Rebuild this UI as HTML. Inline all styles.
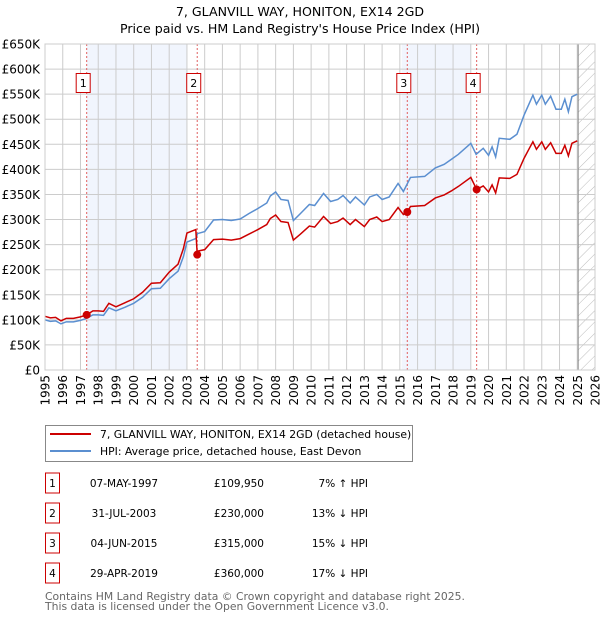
<!DOCTYPE html>
<html><head><meta charset="utf-8"><style>
body{margin:0;background:#fff;font-family:"DejaVu Sans","Liberation Sans",sans-serif;}
svg text{font-family:"DejaVu Sans","Liberation Sans",sans-serif;}
</style></head><body>
<svg id="chart" width="600" height="620" xmlns="http://www.w3.org/2000/svg">
<defs><pattern id="hatch" width="8" height="8" patternUnits="userSpaceOnUse" patternTransform="rotate(45)"><line x1="0" y1="0" x2="0" y2="8" stroke="#bbb" stroke-width="1"/></pattern></defs>
<text x="300" y="16" text-anchor="middle" font-size="12.6">7, GLANVILL WAY, HONITON, EX14 2GD</text>
<text x="300" y="33" text-anchor="middle" font-size="12.6">Price paid vs. HM Land Registry's House Price Index (HPI)</text>
<g id="plot"></g>
<g>
<rect x="45.5" y="425.5" width="367" height="36" fill="#fff" stroke="#888"/>
<line x1="50" y1="434" x2="91" y2="434" stroke="#cc0000" stroke-width="2"/>
<text x="100" y="438" font-size="10.8">7, GLANVILL WAY, HONITON, EX14 2GD (detached house)</text>
<line x1="50" y1="451" x2="91" y2="451" stroke="#5b8fd0" stroke-width="2"/>
<text x="100" y="455" font-size="10.8">HPI: Average price, detached house, East Devon</text>
</g>
<g id="table"></g>
<text x="45" y="600" font-size="10.8" fill="#666">Contains HM Land Registry data © Crown copyright and database right 2025.</text>
<text x="45" y="610" font-size="10.8" fill="#666">This data is licensed under the Open Government Licence v3.0.</text>
</svg>
<script>
const hpiYears=[1995.0,1995.3,1995.6,1995.9,1996.2,1996.6,1997.0,1997.35,1997.7,1998.0,1998.3,1998.6,1999.0,1999.5,2000.0,2000.5,2001.0,2001.5,2002.0,2002.5,2002.8,2003.0,2003.5,2003.6,2004.0,2004.5,2005.0,2005.5,2006.0,2006.5,2007.0,2007.5,2007.7,2008.0,2008.3,2008.7,2009.0,2009.4,2009.9,2010.2,2010.7,2011.1,2011.5,2011.8,2012.2,2012.5,2013.0,2013.3,2013.7,2014.0,2014.4,2014.9,2015.2,2015.6,2016.4,2017.0,2017.5,2017.9,2018.3,2019.0,2019.3,2019.7,2020.0,2020.2,2020.4,2020.6,2021.2,2021.6,2022.0,2022.3,2022.5,2022.7,2023.0,2023.2,2023.5,2023.8,2024.1,2024.3,2024.5,2024.7,2025.0];
const hpiValues=[100,97,98,92,96,96,99,103,110,110,109,124,118,125,133,145,162,163,182,197,226,255,262,272,276,299,300,298,301,312,322,333,347,355,340,338,298,312,330,328,352,336,340,348,333,345,329,345,350,340,345,372,356,384,386,403,410,420,430,452,430,442,428,445,425,462,460,470,508,532,548,530,548,530,546,520,520,540,515,545,550];
const priceYears=[1995.0,1995.3,1995.6,1995.9,1996.2,1996.6,1997.0,1997.35,1997.7,1998.0,1998.3,1998.6,1999.0,1999.5,2000.0,2000.5,2001.0,2001.5,2002.0,2002.5,2002.8,2003.0,2003.5,2003.58,2003.6,2004.0,2004.5,2005.0,2005.5,2006.0,2006.5,2007.0,2007.5,2007.7,2008.0,2008.3,2008.7,2009.0,2009.4,2009.9,2010.2,2010.7,2011.1,2011.5,2011.8,2012.2,2012.5,2013.0,2013.3,2013.7,2014.0,2014.4,2014.9,2015.2,2015.42,2015.6,2016.4,2017.0,2017.5,2017.9,2018.3,2019.0,2019.33,2019.7,2020.0,2020.2,2020.4,2020.6,2021.2,2021.6,2022.0,2022.3,2022.5,2022.7,2023.0,2023.2,2023.5,2023.8,2024.1,2024.3,2024.5,2024.7,2025.0];
const priceValues=[107,104,105,98,103,103,106,110,118,118,117,133,126,134,142,155,173,174,195,211,242,273,280,230,237,240,260,261,259,262,271,280,290,302,309,296,294,259,271,287,285,306,292,296,303,290,300,286,300,305,296,300,324,310,315,326,328,343,349,357,366,384,360,367,355,369,353,383,382,390,422,442,455,440,455,440,453,432,432,448,427,452,457];
const saleYears=[1997.35,2003.58,2015.42,2019.33];
const salePrices=[110,230,315,360];
const saleLabels=["1","2","3","4"];
const saleDates=["07-MAY-1997","31-JUL-2003","04-JUN-2015","29-APR-2019"];
const salePriceText=["£109,950","£230,000","£315,000","£360,000"];
const saleHpiText=["7% ↑ HPI","13% ↓ HPI","15% ↓ HPI","17% ↓ HPI"];
const shadeStarts=[1997.35,2015.1];
const shadeEnds=[2003.0,2019.0];
const yTicks=[0,50,100,150,200,250,300,350,400,450,500,550,600,650];
const xTicks=[1995,1996,1997,1998,1999,2000,2001,2002,2003,2004,2005,2006,2007,2008,2009,2010,2011,2012,2013,2014,2015,2016,2017,2018,2019,2020,2021,2022,2023,2024,2025,2026];

const NS="http://www.w3.org/2000/svg";
const L=45,R=595,T=44,B=370;
const X=y=>L+(y-1995)/(2026-1995)*(R-L);
const Y=v=>B-v/650*(B-T);
const plot=document.getElementById('plot');
function mk(tag,attrs,parent){const e=document.createElementNS(NS,tag);for(const k in attrs)e.setAttribute(k,attrs[k]);(parent||plot).appendChild(e);return e;}
for(let i=0;i<shadeStarts.length;i++){
  const r=mk('rect',{x:X(shadeStarts[i]),y:T,width:X(shadeEnds[i])-X(shadeStarts[i]),height:B-T,fill:'#eef3fc',opacity:0.8});
  
  
}
const hx=X(2025.05);
const hr=mk('rect',{x:hx,y:T,width:R-hx,height:B-T,fill:'url(#hatch)'});


yTicks.forEach(v=>{
  const g=mk('line',{x1:L,x2:R,y1:Y(v),y2:Y(v),stroke:'#ccc','stroke-width':1});
  
  
  const t=mk('text',{x:40,y:Y(v)+4.5,'text-anchor':'end','font-size':12});
  t.textContent=v===0?'£0':'£'+v+'K';
  
  
});
xTicks.forEach(yr=>{
  const g=mk('line',{x1:X(yr),x2:X(yr),y1:T,y2:B,stroke:'#ccc','stroke-width':1});
  
  
  const t=mk('text',{x:0,y:0,'text-anchor':'end','font-size':12,transform:`translate(${X(yr)+4.5},${B+5}) rotate(-90)`});
  t.textContent=yr;
  
  
});
const vl=mk('line',{x1:hx,x2:hx,y1:T,y2:B,stroke:'#888','stroke-width':1});


saleYears.forEach((yr,i)=>{
  const l=mk('line',{x1:X(yr),x2:X(yr),y1:T,y2:B,stroke:'#e06060','stroke-width':1,'stroke-dasharray':'2,2'});
  
  
});
const hp=mk('polyline',{points:hpiYears.map((y,i)=>X(y)+','+Y(hpiValues[i])).join(' '),fill:'none',stroke:'#5b8fd0','stroke-width':1.5});


const pp=mk('polyline',{points:priceYears.map((y,i)=>X(y)+','+Y(priceValues[i])).join(' '),fill:'none',stroke:'#cc0000','stroke-width':1.5});


saleYears.forEach((yr,i)=>{
  const c=mk('circle',{cx:X(yr),cy:Y(salePrices[i]),r:4,fill:'#cc0000'});
  
  
  const b=mk('rect',{x:X(yr)-10.5,y:73.5,width:14,height:19,fill:'#fff',stroke:'#cc0000'});
  
  
  const t=mk('text',{x:X(yr)-3.5,y:87,'text-anchor':'middle','font-size':11});
  t.textContent=saleLabels[i];
  
  
});
const border=mk('rect',{x:L,y:T,width:R-L,height:B-T,fill:'none',stroke:'#ccc'});


const tbl=document.getElementById('table');
saleYears.forEach((yr,i)=>{
  const cy=483+i*30;
  const b=mk('rect',{x:45.5,y:cy-10,width:14,height:20,fill:'#fff',stroke:'#cc0000'},tbl);
  
  
  const n=mk('text',{x:52.5,y:cy+4,'text-anchor':'middle','font-size':10.5},tbl);
  n.textContent=saleLabels[i];
  
  
  const d=mk('text',{x:124,y:cy+4,'text-anchor':'middle','font-size':10.5},tbl);
  d.textContent=saleDates[i];
  
  
  const p=mk('text',{x:264,y:cy+4,'text-anchor':'end','font-size':10.5},tbl);
  p.textContent=salePriceText[i];
  
  
  const h=mk('text',{x:368,y:cy+4,'text-anchor':'end','font-size':10.5},tbl);
  h.textContent=saleHpiText[i];
  
  
});
</script>
</body></html>
